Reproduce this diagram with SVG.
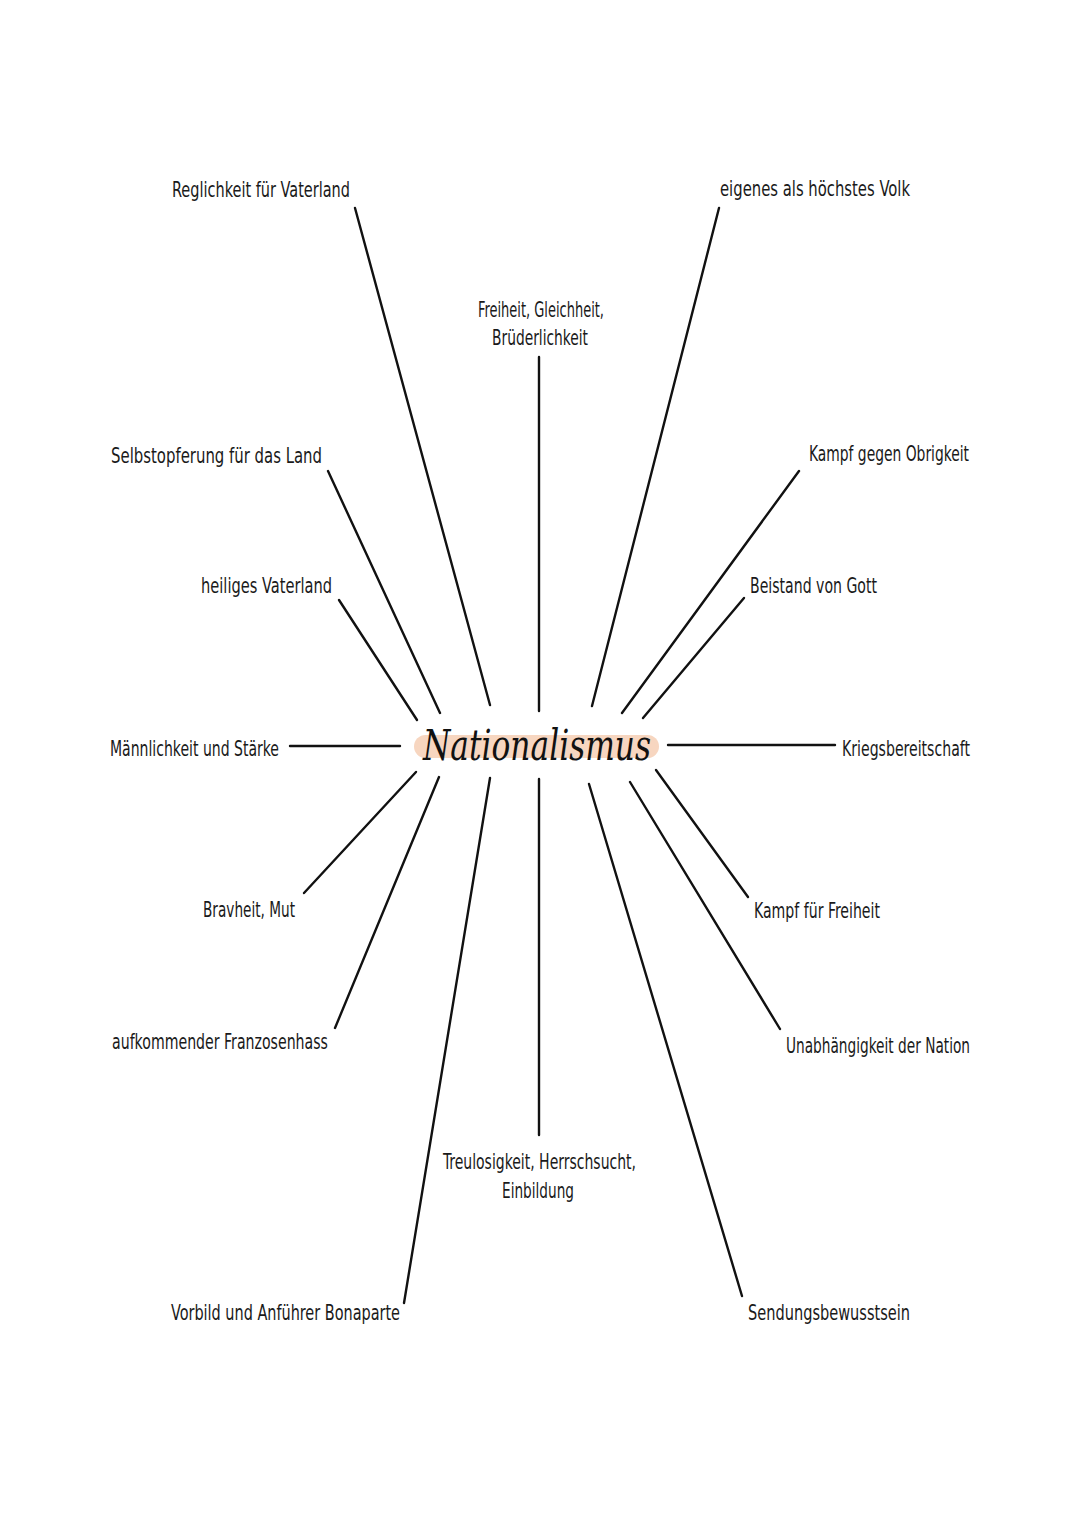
<svg xmlns="http://www.w3.org/2000/svg" width="1080" height="1527" viewBox="0 0 1080 1527">
<style>
.lbl{font-family:"DejaVu Sans Condensed","DejaVu Sans","Liberation Sans",sans-serif;font-size:21px;fill:#1a1a1a;}
.ln{stroke:#111;stroke-width:2.4;stroke-linecap:round;fill:none;}
.title{font-family:"DejaVu Serif","Liberation Serif",serif;font-style:italic;font-size:42px;fill:#111;}
</style>
<rect width="1080" height="1527" fill="#fff"/>
<g id="connectors">
<line class="ln" x1="355" y1="208" x2="490" y2="705"/>
<line class="ln" x1="539" y1="357" x2="539" y2="711"/>
<line class="ln" x1="719" y1="208" x2="592" y2="706"/>
<line class="ln" x1="328" y1="471" x2="440" y2="713"/>
<line class="ln" x1="339" y1="600" x2="417" y2="720"/>
<line class="ln" x1="799" y1="471" x2="622" y2="713"/>
<line class="ln" x1="744" y1="598" x2="643" y2="718"/>
<line class="ln" x1="290" y1="746" x2="400" y2="746"/>
<line class="ln" x1="668" y1="745" x2="835" y2="745"/>
<line class="ln" x1="304" y1="893" x2="416" y2="772"/>
<line class="ln" x1="656" y1="770" x2="748" y2="897"/>
<line class="ln" x1="335" y1="1028" x2="439" y2="777"/>
<line class="ln" x1="630" y1="782" x2="780" y2="1029"/>
<line class="ln" x1="539" y1="779" x2="539" y2="1135"/>
<line class="ln" x1="490" y1="778" x2="404" y2="1303"/>
<line class="ln" x1="589" y1="784" x2="742" y2="1296"/>
</g>
<g id="center">
<rect x="414" y="735" width="245" height="23" rx="11.5" fill="#f7d6c0"/>
<text class="title" x="537" y="760" text-anchor="middle" textLength="228" lengthAdjust="spacingAndGlyphs">Nationalismus</text>
</g>
<g id="n1"><text class="lbl" x="172" y="197" textLength="178" lengthAdjust="spacingAndGlyphs">Reglichkeit für Vaterland</text></g>
<g id="n2"><text class="lbl" x="478" y="317" textLength="126" lengthAdjust="spacingAndGlyphs">Freiheit, Gleichheit,</text><text class="lbl" x="492" y="345" textLength="96" lengthAdjust="spacingAndGlyphs">Brüderlichkeit</text></g>
<g id="n3"><text class="lbl" x="720" y="196" textLength="190" lengthAdjust="spacingAndGlyphs">eigenes als höchstes Volk</text></g>
<g id="n4"><text class="lbl" x="111" y="463" textLength="211" lengthAdjust="spacingAndGlyphs">Selbstopferung für das Land</text></g>
<g id="n5"><text class="lbl" x="809" y="461" textLength="160" lengthAdjust="spacingAndGlyphs">Kampf gegen Obrigkeit</text></g>
<g id="n6"><text class="lbl" x="201" y="593" textLength="131" lengthAdjust="spacingAndGlyphs">heiliges Vaterland</text></g>
<g id="n7"><text class="lbl" x="750" y="593" textLength="127" lengthAdjust="spacingAndGlyphs">Beistand von Gott</text></g>
<g id="n8"><text class="lbl" x="110" y="756" textLength="169" lengthAdjust="spacingAndGlyphs">Männlichkeit und Stärke</text></g>
<g id="n9"><text class="lbl" x="842" y="756" textLength="128" lengthAdjust="spacingAndGlyphs">Kriegsbereitschaft</text></g>
<g id="n10"><text class="lbl" x="203" y="917" textLength="92" lengthAdjust="spacingAndGlyphs">Bravheit, Mut</text></g>
<g id="n11"><text class="lbl" x="754" y="918" textLength="126" lengthAdjust="spacingAndGlyphs">Kampf für Freiheit</text></g>
<g id="n12"><text class="lbl" x="112" y="1049" textLength="216" lengthAdjust="spacingAndGlyphs">aufkommender Franzosenhass</text></g>
<g id="n13"><text class="lbl" x="786" y="1053" textLength="184" lengthAdjust="spacingAndGlyphs">Unabhängigkeit der Nation</text></g>
<g id="n14"><text class="lbl" x="443" y="1169" textLength="193" lengthAdjust="spacingAndGlyphs">Treulosigkeit, Herrschsucht,</text><text class="lbl" x="502" y="1198" textLength="72" lengthAdjust="spacingAndGlyphs">Einbildung</text></g>
<g id="n15"><text class="lbl" x="171" y="1320" textLength="229" lengthAdjust="spacingAndGlyphs">Vorbild und Anführer Bonaparte</text></g>
<g id="n16"><text class="lbl" x="748" y="1320" textLength="162" lengthAdjust="spacingAndGlyphs">Sendungsbewusstsein</text></g>
</svg>
